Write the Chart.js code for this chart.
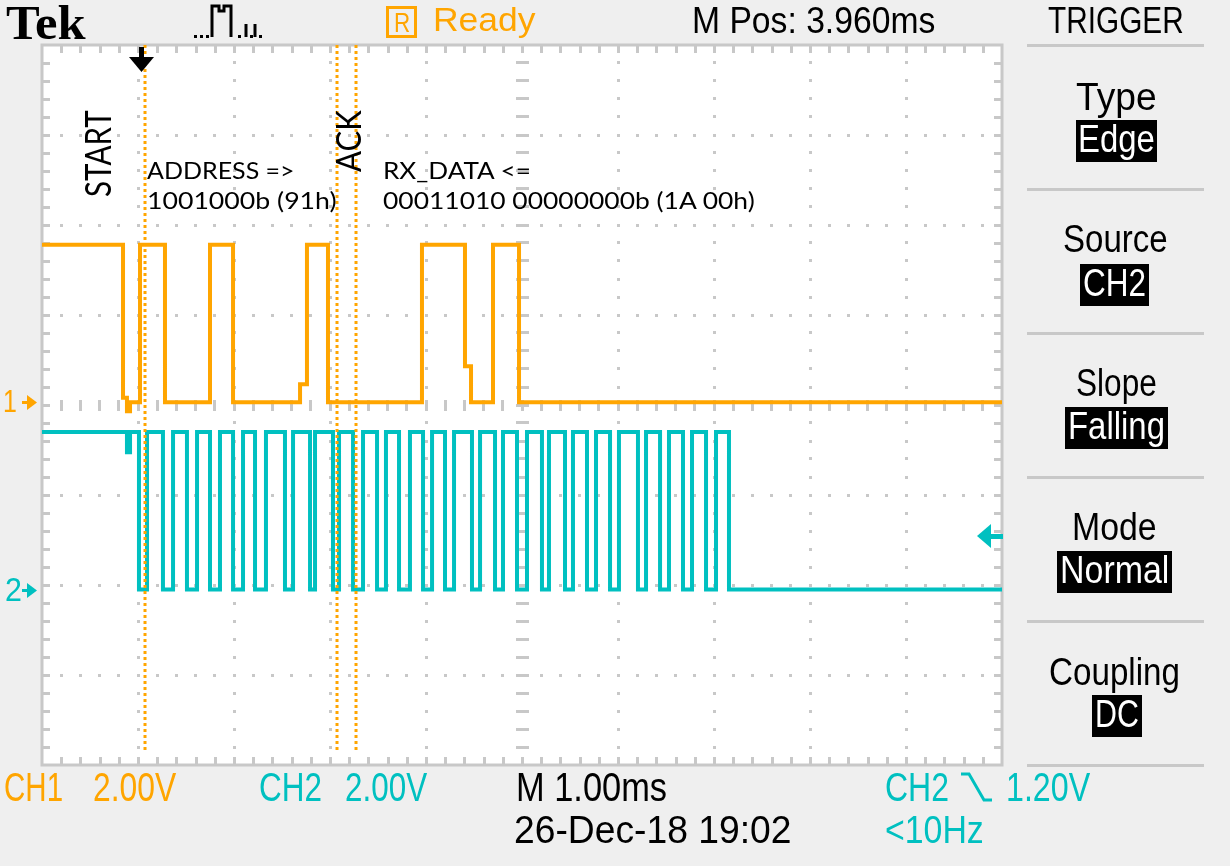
<!DOCTYPE html>
<html>
<head>
<meta charset="utf-8">
<title>Tek - I2C read</title>
<script src="https://cdn.jsdelivr.net/npm/chart.js@4.4.1/dist/chart.umd.min.js"></script>
<style>
  html, body { margin: 0; padding: 0; }
  body { width: 1230px; height: 866px; background: #efefef; position: relative; overflow: hidden; }
  #scope { position: absolute; left: 0; top: 0; }
  .t { position: absolute; white-space: nowrap; line-height: 1; transform-origin: 0 0;
       font-family: 'Liberation Sans', Arial, sans-serif; color: #000; }
  .note { font-family: Lato, 'Open Sans', sans-serif; }
  .or { color: #ffa500; }
  .cy { color: #00c0c0; }
  .wh { color: #fff; }
  .box { position: absolute; background: #000; height: 42px; }
  .sep { position: absolute; left: 1027px; width: 177px; height: 3px; background: #c8c8c8; }
  svg { position: absolute; left: 0; top: 0; }
</style>
</head>
<body>
<canvas id="scope" width="1230" height="866"></canvas>

<svg width="1230" height="866">
  <!-- acquisition icon -->
  <g fill="#000">
    <rect x="194" y="35" width="3" height="3"/><rect x="200" y="35" width="3" height="3"/><rect x="206" y="35" width="3" height="3"/>
    <rect x="238" y="35" width="3" height="3"/><rect x="250" y="35" width="3" height="3"/><rect x="259" y="35" width="3" height="3"/>
  </g>
  <polyline points="212,37 212,6 219,6 219,11 224,11 224,6 231,6 231,37" fill="none" stroke="#000" stroke-width="3"/>
  <polyline points="246,37 246,24" fill="none" stroke="#000" stroke-width="3"/>
  <polyline points="255,37 255,24" fill="none" stroke="#000" stroke-width="3"/>
  <!-- falling slope symbol -->
  <polyline points="961,774 969,774 984,800 992,800" fill="none" stroke="#00c0c0" stroke-width="3"/>
</svg>

<!-- header -->
<div class="t" style="font-family:'Liberation Serif','Times New Roman',serif;font-weight:bold;font-size:48px;left:6px;top:-1px" data-w="80">Tek</div>
<div style="position:absolute;left:386px;top:6px;width:31px;height:32px;box-sizing:border-box;border:3px solid #ffa500"></div>
<div class="t or" style="font-size:28px;left:394px;top:9px" data-w="16">R</div>
<div class="t or" style="font-size:33px;left:433px;top:3px" data-w="102">Ready</div>
<div class="t" style="font-size:37px;left:692px;top:2px" data-w="243">M Pos: 3.960ms</div>
<div class="t" style="font-size:37px;left:1048px;top:2px" data-w="136">TRIGGER</div>

<!-- trigger menu -->
<div class="sep" style="top:44px"></div>
<div class="sep" style="top:188px"></div>
<div class="sep" style="top:332px"></div>
<div class="sep" style="top:476px"></div>
<div class="sep" style="top:620px"></div>
<div class="sep" style="top:764px"></div>

<div class="t" style="font-size:39px;left:1076px;top:77px" data-w="81">Type</div>
<div class="box" style="left:1076px;top:120px;width:81px"></div>
<div class="t wh" style="font-size:38px;left:1078px;top:120px" data-w="77">Edge</div>

<div class="t" style="font-size:39px;left:1063px;top:219px" data-w="105">Source</div>
<div class="box" style="left:1080px;top:264px;width:69px"></div>
<div class="t wh" style="font-size:38px;left:1083px;top:264px" data-w="63">CH2</div>

<div class="t" style="font-size:39px;left:1076px;top:363px" data-w="81">Slope</div>
<div class="box" style="left:1065px;top:407px;width:103px"></div>
<div class="t wh" style="font-size:38px;left:1068px;top:407px" data-w="97">Falling</div>

<div class="t" style="font-size:39px;left:1072px;top:507px" data-w="85">Mode</div>
<div class="box" style="left:1057px;top:551px;width:115px"></div>
<div class="t wh" style="font-size:38px;left:1060px;top:551px" data-w="109">Normal</div>

<div class="t" style="font-size:39px;left:1049px;top:652px" data-w="131">Coupling</div>
<div class="box" style="left:1092px;top:695px;width:50px"></div>
<div class="t wh" style="font-size:38px;left:1095px;top:695px" data-w="44">DC</div>

<!-- channel ground labels, placed from the y scale -->
<div class="t or" id="g1" style="font-size:32px;left:3px;top:386px" data-w="14">1</div>
<div class="t cy" id="g2" style="font-size:34px;left:5px;top:573px" data-w="17">2</div>

<!-- bottom readout -->
<div class="t or" style="font-size:41px;left:4px;top:767px" data-w="59">CH1</div>
<div class="t or" style="font-size:41px;left:93px;top:767px" data-w="83">2.00V</div>
<div class="t cy" style="font-size:41px;left:259px;top:767px" data-w="63">CH2</div>
<div class="t cy" style="font-size:41px;left:345px;top:767px" data-w="82">2.00V</div>
<div class="t" style="font-size:41px;left:516px;top:767px" data-w="151">M 1.00ms</div>
<div class="t cy" style="font-size:41px;left:885px;top:767px" data-w="64">CH2</div>
<div class="t cy" style="font-size:41px;left:1006px;top:767px" data-w="84">1.20V</div>
<div class="t" style="font-size:39px;left:514px;top:810px" data-w="278">26-Dec-18 19:02</div>
<div class="t cy" style="font-size:39px;left:885px;top:810px" data-w="99">&lt;10Hz</div>

<!-- decode notes -->
<div class="t note rot" style="font-size:36px;left:79px;top:197px" data-w="87">START</div>
<div class="t note rot" style="font-size:34px;left:331px;top:172px" data-w="62">ACK</div>
<div class="t note" style="font-size:24px;left:147px;top:158px" data-w="148">ADDRESS =&gt;</div>
<div class="t note" style="font-size:24px;left:147px;top:188px" data-w="190">1001000b (91h)</div>
<div class="t note" style="font-size:24px;left:383px;top:158px" data-w="148">RX_DATA &lt;=</div>
<div class="t note" style="font-size:24px;left:383px;top:188px" data-w="372">00011010 00000000b (1A 00h)</div>

<script>
// horizontal: 1.00 ms/div, 10 divisions; vertical: 8 divisions
const msPerDiv = 1.0;
const divsX = 10;
const divsY = 8;
const voltsPerDiv = 2.0;   // both channels
const ch1PosDiv = 0.03;    // ground marker "1"
const ch2PosDiv = -2.05;   // ground marker "2"
const triggerMs = 1.03;
const triggerLevelV = 1.2; // CH2 falling
const cursorMs = [1.073, 3.073, 3.271];

// CH1 (SDA): time of each level change (ms) and the level after it (V)
const ch1Ms = [0, 0.844, 0.885, 0.917, 1.021, 1.281, 1.750, 1.990, 2.688, 2.760,
               2.979, 3.958, 4.406, 4.469, 4.698, 4.969, 10];
const ch1Volts = [3.5, 0.1, -0.2, 0, 3.5, 0, 3.5, 0, 0.4, 3.5,
                  0, 3.5, 0.8, 0, 3.5, 0, 0];

// CH2 (SCL)
const ch2Ms = [0, 0.885, 0.917, 1.010,
               1.094, 1.260, 1.365, 1.510, 1.615, 1.750, 1.854, 1.990, 2.094, 2.219,
               2.333, 2.531, 2.615, 2.792, 2.844, 3.031, 3.094, 3.240, 3.344, 3.490,
               3.583, 3.719, 3.833, 3.969, 4.063, 4.198, 4.292, 4.479, 4.563, 4.719,
               4.802, 4.948, 5.052, 5.208, 5.281, 5.448, 5.531, 5.677, 5.771, 5.917,
               6.010, 6.208, 6.292, 6.438, 6.531, 6.677, 6.771, 6.917, 7.021, 7.156,
               10];
const ch2Volts = [3.5, 3.05, 3.5, 0,
                  3.5, 0, 3.5, 0, 3.5, 0, 3.5, 0, 3.5, 0,
                  3.5, 0, 3.5, 0, 3.5, 0, 3.5, 0, 3.5, 0,
                  3.5, 0, 3.5, 0, 3.5, 0, 3.5, 0, 3.5, 0,
                  3.5, 0, 3.5, 0, 3.5, 0, 3.5, 0, 3.5, 0,
                  3.5, 0, 3.5, 0, 3.5, 0, 3.5, 0, 3.5, 0,
                  0];

const ORANGE = '#ffa500';
const CYAN = '#00c0c0';
const GRID = '#c8c8c8';

function toPoints(times, volts, pos) {
  return times.map((t, i) => ({ x: t, y: volts[i] / voltsPerDiv + pos }));
}

const graticule = {
  id: 'graticule',
  beforeDatasetsDraw(chart) {
    const { ctx, chartArea: a, scales: { x, y } } = chart;
    ctx.save();
    ctx.fillStyle = '#fff';
    ctx.fillRect(a.left, a.top, a.right - a.left, a.bottom - a.top);
    ctx.fillStyle = GRID;
    const dot = (px, py, w, h) => ctx.fillRect(Math.round(px - w / 2), Math.round(py - h / 2), w, h);
    // vertical division lines, dotted every 0.2 div
    for (let i = 1; i < divsX; i++) {
      const px = x.getPixelForValue(i * msPerDiv);
      for (let k = 1; k < divsY * 5; k++) {
        const py = y.getPixelForValue(-divsY / 2 + k * 0.2);
        if (i === divsX / 2) dot(px, py, 13, 3); else dot(px, py, 3, 3);
      }
    }
    // horizontal division lines
    for (let j = 1; j < divsY; j++) {
      const py = y.getPixelForValue(-divsY / 2 + j);
      for (let k = 1; k < divsX * 5; k++) {
        const px = x.getPixelForValue(k * 0.2 * msPerDiv);
        if (j === divsY / 2) dot(px, py, 3, 11); else dot(px, py, 3, 3);
      }
    }
    // ticks on the frame
    for (let k = 1; k < divsX * 5; k++) {
      const px = Math.round(x.getPixelForValue(k * 0.2 * msPerDiv)) - 1;
      ctx.fillRect(px, a.top, 3, 8);
      ctx.fillRect(px, a.bottom - 8, 3, 8);
    }
    for (let k = 1; k < divsY * 5; k++) {
      const py = Math.round(y.getPixelForValue(-divsY / 2 + k * 0.2)) - 1;
      ctx.fillRect(a.left, py, 8, 3);
      ctx.fillRect(a.right - 8, py, 8, 3);
    }
    ctx.strokeStyle = GRID;
    ctx.lineWidth = 3;
    ctx.strokeRect(a.left, a.top, a.right - a.left, a.bottom - a.top);
    ctx.restore();
  },
  afterDatasetsDraw(chart) {
    const { ctx, chartArea: a, scales: { x, y } } = chart;
    ctx.save();
    // trigger position
    const tx = Math.round(x.getPixelForValue(triggerMs));
    ctx.fillStyle = '#000';
    ctx.fillRect(tx - 2, a.top + 2, 5, 11);
    ctx.beginPath();
    ctx.moveTo(tx - 12, a.top + 12);
    ctx.lineTo(tx + 13, a.top + 12);
    ctx.lineTo(tx + 0.5, a.top + 27);
    ctx.closePath();
    ctx.fill();
    // trigger level
    const ly = Math.round(y.getPixelForValue(triggerLevelV / voltsPerDiv + ch2PosDiv));
    ctx.fillStyle = CYAN;
    ctx.beginPath();
    ctx.moveTo(a.right - 25, ly);
    ctx.lineTo(a.right - 11, ly - 12);
    ctx.lineTo(a.right - 11, ly + 12);
    ctx.closePath();
    ctx.fill();
    ctx.fillRect(a.right - 12, ly - 2, 13, 5);
    // ground markers
    [[ch1PosDiv, ORANGE], [ch2PosDiv, CYAN]].forEach(([p, c]) => {
      const gy = Math.round(y.getPixelForValue(p));
      ctx.fillStyle = c;
      ctx.fillRect(22, gy - 1, 7, 3);
      ctx.beginPath();
      ctx.moveTo(27, gy - 7);
      ctx.lineTo(37, gy + 0.5);
      ctx.lineTo(27, gy + 8);
      ctx.closePath();
      ctx.fill();
    });
    ctx.restore();
  }
};

const cursorSets = cursorMs.map(t => ({
  data: [{ x: t, y: divsY / 2 }, { x: t, y: -3.85 }],
  borderColor: ORANGE,
  borderWidth: 3,
  borderDash: [3, 3],
  pointRadius: 0,
  order: 0
}));

const chart = new Chart(document.getElementById('scope'), {
  type: 'line',
  data: {
    datasets: [
      ...cursorSets,
      {
        label: 'CH1',
        data: toPoints(ch1Ms, ch1Volts, ch1PosDiv),
        borderColor: ORANGE,
        borderWidth: 4,
        stepped: true,
        pointRadius: 0,
        order: 1
      },
      {
        label: 'CH2',
        data: toPoints(ch2Ms, ch2Volts, ch2PosDiv),
        borderColor: CYAN,
        borderWidth: 4,
        stepped: true,
        pointRadius: 0,
        order: 2
      }
    ]
  },
  options: {
    responsive: false,
    devicePixelRatio: 1,
    animation: false,
    events: [],
    layout: { padding: { left: 42, top: 45, right: 228, bottom: 101 } },
    scales: {
      x: { type: 'linear', min: 0, max: divsX * msPerDiv, display: false },
      y: { type: 'linear', min: -divsY / 2, max: divsY / 2, display: false }
    },
    plugins: { legend: { display: false }, tooltip: { enabled: false } }
  },
  plugins: [graticule]
});

// channel numbers sit on their ground markers
const ys = chart.scales.y;
document.getElementById('g1').style.top = (ys.getPixelForValue(ch1PosDiv) - 13 - 0.13 * 32) + 'px';
document.getElementById('g2').style.top = (ys.getPixelForValue(ch2PosDiv) - 13 - 0.13 * 34) + 'px';

// squeeze each label to the width it has on the scope screen
function fitText() {
  document.querySelectorAll('[data-w]').forEach(el => {
    const s = el.dataset.w / el.offsetWidth;
    el.style.transform = (el.classList.contains('rot') ? 'rotate(-90deg) ' : '') + 'scaleX(' + s.toFixed(3) + ')';
  });
}
fitText();
if (document.fonts) document.fonts.ready.then(fitText);
</script>
</body>
</html>
